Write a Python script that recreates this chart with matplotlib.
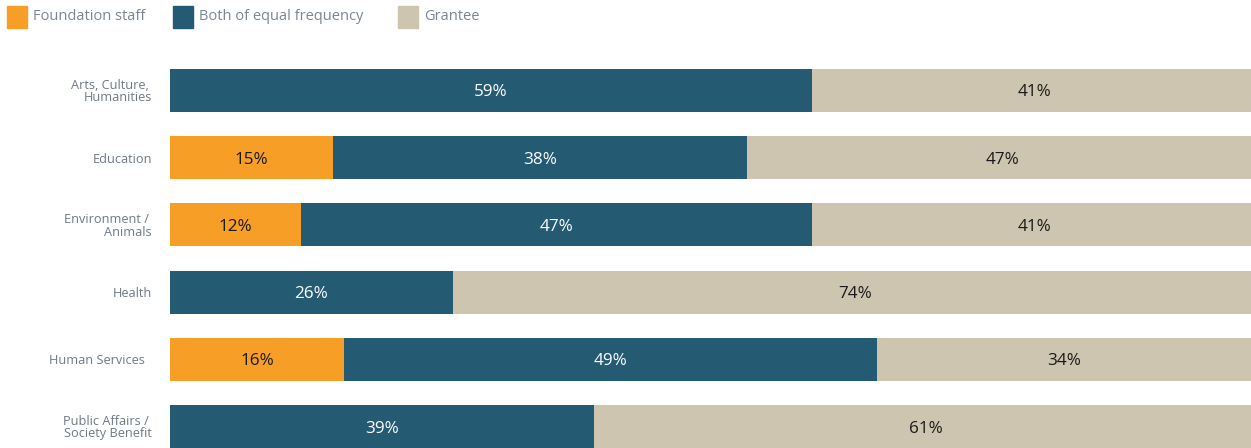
import matplotlib
matplotlib.use("Agg")
import matplotlib.pyplot as plt
from matplotlib.patches import Rectangle

plt.rcParams['font.family'] = ['Open Sans', 'DejaVu Sans']

categories = ["Arts, Culture, \nHumanities", "Education", "Environment / \nAnimals",
              "Health", "Human Services  ", "Public Affairs / \nSociety Benefit"]
foundation = [0, 15, 12, 0, 16, 0]
both = [59, 38, 47, 26, 49, 39]
grantee = [41, 47, 41, 74, 34.4, 61]

series = [foundation, both, grantee]
names = ["Foundation staff", "Both of equal frequency", "Grantee"]
colors = ["#F79E27", "#245A72", "#CDC5AF"]
text_colors = ["#1a1a1a", "white", "#1a1a1a"]

W, H = 1251, 448
fig = plt.figure(figsize=(W / 100, H / 100), dpi=100)
ax = fig.add_axes([170 / W, 0, (W - 170) / W, (H - 40) / H])

ypos = list(range(len(categories)))
left = [0] * len(categories)
for vals, col, tcol in zip(series, colors, text_colors):
    ax.barh(ypos, vals, left=left, height=0.64, color=col)
    for y, v, l in zip(ypos, vals, left):
        if v > 0:
            ax.text(l + v / 2, y + 0.03, f"{v:.0f}%", ha="center", va="center",
                    color=tcol, fontsize=12.3)
    left = [a + b for a, b in zip(left, vals)]

ax.set_xlim(0, 100 * 1081 / 1088)
ax.set_ylim(5.32, -0.75)
ax.set_yticks(ypos)
ax.set_yticklabels(categories, fontsize=9.2, color="#6f7a86", multialignment="right",
                   linespacing=0.95)
ax.tick_params(axis="y", length=0, pad=13)
ax.set_xticks([])
for s in ax.spines.values():
    s.set_visible(False)

# legend
leg_x = [7, 173, 398]
for x, name, col in zip(leg_x, names, colors):
    fig.patches.append(Rectangle((x / W, 1 - 28 / H), 20 / W, 22 / H,
                                 transform=fig.transFigure, color=col))
    fig.text((x + 26) / W, 1 - 17 / H, name, ha="left", va="center",
             fontsize=10.5, color="#7a8691")

fig.savefig("out.png", dpi=100)
